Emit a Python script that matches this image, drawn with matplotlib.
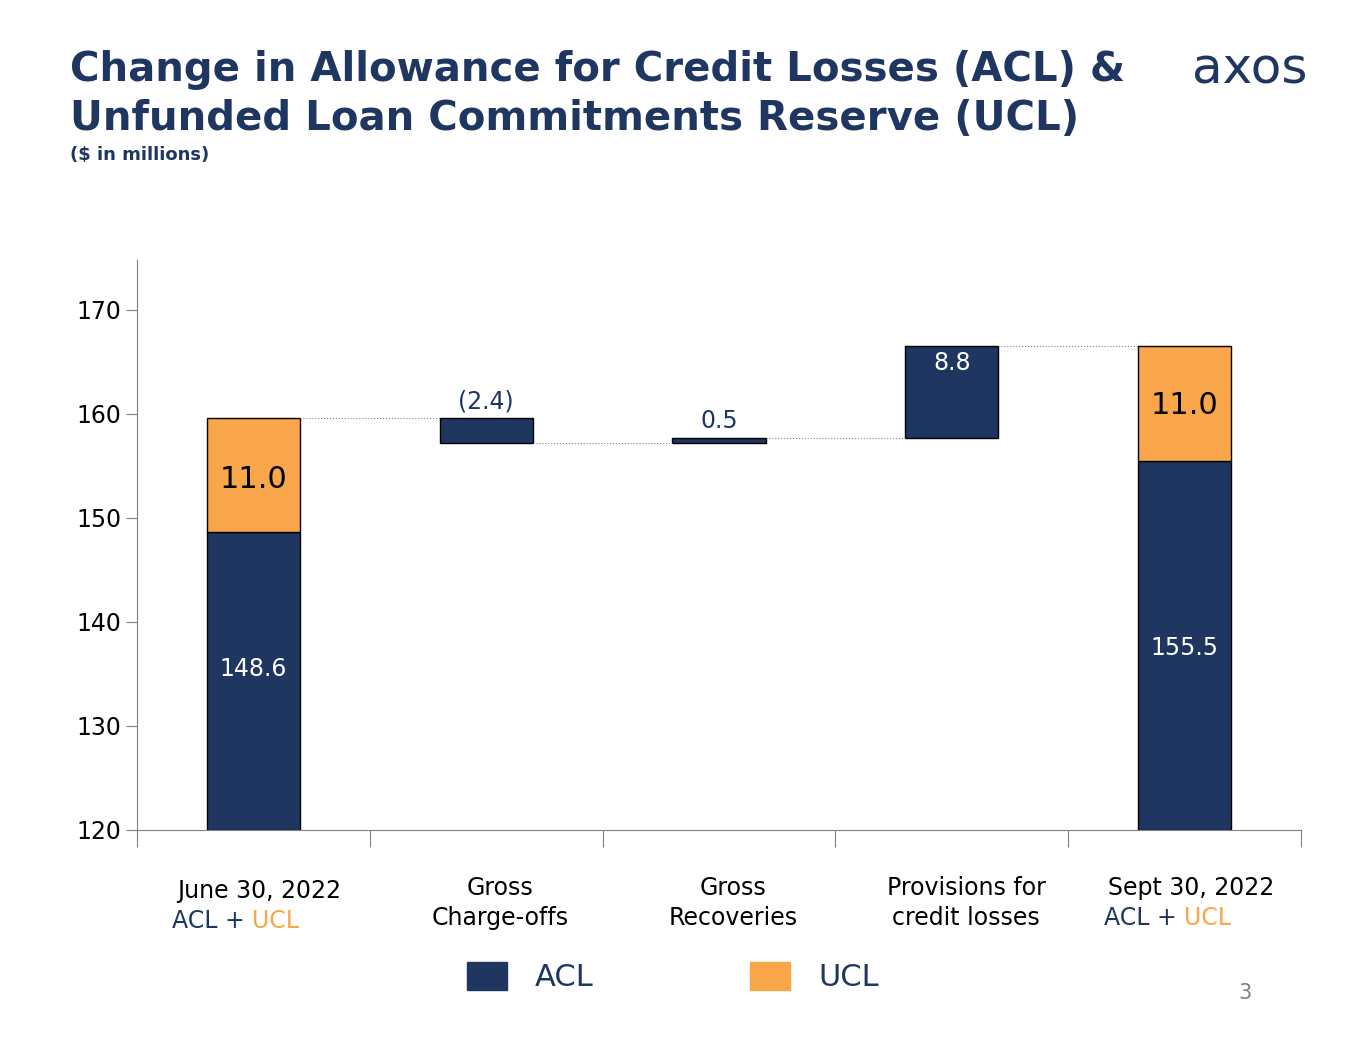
import numpy as np
import matplotlib.pyplot as plt

categories = ['June 30, 2022', 'Gross\nCharge-offs', 'Gross\nRecoveries', 'Provisions for\ncredit losses', 'Sept 30, 2022']
acl_start = 148.6
ucl_start = 11.0
changes = [-2.4, 0.5, 8.8]
change_labels = ['(2.4)', '0.5', '8.8']
acl_end = 155.5
ucl_end = 11.0

navy = '#1F3660'
orange = '#F9A54A'

fig = plt.figure(figsize=(13.65, 10.55), dpi=100)
ax = fig.add_axes([0.1004, 0.2133, 0.8527, 0.5403])
w = 0.4

# start / end stacks
ax.bar(0, acl_start - 120, bottom=120, width=w, color=navy, edgecolor='black', lw=1)
ax.bar(0, ucl_start, bottom=acl_start, width=w, color=orange, edgecolor='black', lw=1)
ax.bar(4, acl_end - 120, bottom=120, width=w, color=navy, edgecolor='black', lw=1)
ax.bar(4, ucl_end, bottom=acl_end, width=w, color=orange, edgecolor='black', lw=1)
ax.text(0, 135.5, f'{acl_start:.1f}', color='white', ha='center', va='center', fontsize=17)
ax.text(0, 153.7, f'{ucl_start:.1f}', color='black', ha='center', va='center', fontsize=22)
ax.text(4, 137.5, f'{acl_end:.1f}', color='white', ha='center', va='center', fontsize=17)
ax.text(4, 160.8, f'{ucl_end:.1f}', color='black', ha='center', va='center', fontsize=22)

level = acl_start + ucl_start
for i, (c, lab) in enumerate(zip(changes, change_labels), start=1):
    new = level + c
    lo, hi = min(level, new), max(level, new)
    ax.bar(i, hi - lo, bottom=lo, width=w, color=navy, edgecolor='black', lw=1)
    ax.plot([i - 1 + w / 2, i - w / 2], [level, level], ls=':', color='grey', lw=0.8)
    if c > 5:
        ax.text(i, hi - 1.6, lab, color='white', ha='center', va='center', fontsize=17)
    else:
        ax.text(i, hi + 1.6, lab, color=navy, ha='center', va='center', fontsize=17)
    level = new
ax.plot([3 + w / 2, 4 - w / 2], [level, level], ls=':', color='grey', lw=0.8)

ax.set_xlim(-0.5, 4.5)
ax.set_ylim(120, 174.8)
ax.set_yticks([120, 130, 140, 150, 160, 170])
ax.tick_params(axis='y', labelsize=17, length=8, color='grey')
ax.set_xticks(np.arange(-0.5, 5, 1))
ax.set_xticklabels([])
ax.tick_params(axis='x', length=12, direction='in', color='grey', pad=0)
ax.tick_params(axis='x', direction='out')
for s in ['top', 'right']:
    ax.spines[s].set_visible(False)
for s in ['left', 'bottom']:
    ax.spines[s].set_color('grey')

# category labels
for i, cat in enumerate(categories):
    if i in (0, 4):
        y = 0.155 if i == 0 else 0.158
        fig.text((137 + 233 * i + 116 + 6) / 1365, y, cat, ha='center', va='center', fontsize=17)
        x0 = (137 + 233 * i + 116 + 6) / 1365
        fig.text(x0 - 0.005, y - 0.028, 'ACL + ', ha='right', va='center', fontsize=17, color=navy)
        fig.text(x0 - 0.005, y - 0.028, 'UCL', ha='left', va='center', fontsize=17, color=orange)
    else:
        fig.text((137 + 233 * i + 116 + 14) / 1365, 0.144, cat, ha='center', va='center', fontsize=17,
                 linespacing=1.3)

# legend
fig.patches.append(plt.Rectangle((467 / 1365, 1 - 990 / 1055), 40 / 1365, 28 / 1055,
                                 transform=fig.transFigure, color=navy))
fig.text(535 / 1365, 1 - 978 / 1055, 'ACL', fontsize=22, color=navy, va='center')
fig.patches.append(plt.Rectangle((750 / 1365, 1 - 990 / 1055), 40 / 1365, 28 / 1055,
                                 transform=fig.transFigure, color=orange))
fig.text(818 / 1365, 1 - 978 / 1055, 'UCL', fontsize=22, color=navy, va='center')

# titles
fig.text(70 / 1365, 1 - 70 / 1055, 'Change in Allowance for Credit Losses (ACL) &', fontsize=29,
         fontweight='bold', color=navy, va='center', family='Verdana' if False else 'DejaVu Sans')
fig.text(70 / 1365, 1 - 119 / 1055, 'Unfunded Loan Commitments Reserve (UCL)', fontsize=29,
         fontweight='bold', color=navy, va='center')
fig.text(70 / 1365, 1 - 155 / 1055, '($ in millions)', fontsize=13, fontweight='bold', color=navy,
         va='center')
fig.text(1250 / 1365, 1 - 70 / 1055, 'axos', fontsize=36, color=navy, ha='center', va='center')
fig.text(1245 / 1365, 1 - 993 / 1055, '3', fontsize=15, color='grey', ha='center', va='center')

fig.savefig('out.png', dpi=100)
